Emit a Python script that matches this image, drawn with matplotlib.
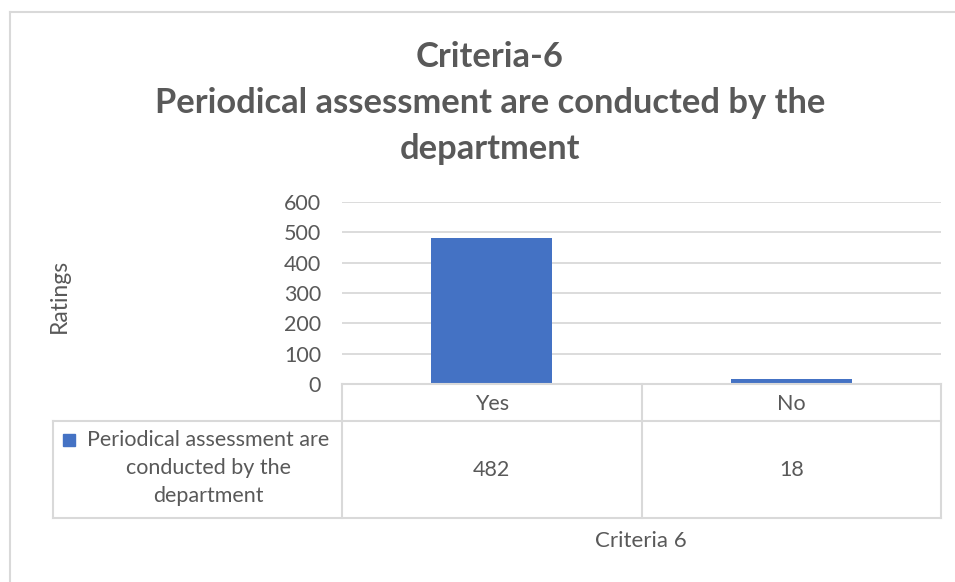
import matplotlib
matplotlib.use("Agg")
import matplotlib.pyplot as plt
from matplotlib.lines import Line2D
from matplotlib.patches import Rectangle

categories = ["Yes", "No"]
values = [482, 18]
series_label_lines = "Periodical assessment are\nconducted by the\ndepartment"
title_text = "Criteria-6\nPeriodical assessment are conducted by the\ndepartment"
y_ticks = [0, 100, 200, 300, 400, 500, 600]
y_label = "Ratings"
x_label = "Criteria 6"

FONT = "Lato"
TXT = "#595959"
GRID = "#D9D9D9"
BAR = "#4472C4"
FS = 15.5

W, H = 955, 582
fig = plt.figure(figsize=(W / 100, H / 100), dpi=100)
plt.rcParams['font.family'] = [FONT, 'DejaVu Sans']

def fx(px):
    return px / W

def fy(py):
    return 1 - py / H

L, R, T, B = 342, 941, 202, 384
ax = fig.add_axes([fx(L), fy(B), fx(R) - fx(L), fy(T) - fy(B)])
x = list(range(len(categories)))
ax.bar(x, values, width=0.405, color=BAR, zorder=3)
ax.set_xlim(-0.5, len(categories) - 0.5)
ax.set_ylim(0, 600)
ax.set_yticks(y_ticks)
ax.set_yticklabels([str(v) for v in y_ticks], fontsize=FS, color=TXT)
ax.tick_params(axis='y', length=0, pad=15)
ax.set_xticks([])
ax.yaxis.grid(True, color=GRID, linewidth=1.3, zorder=0)
for s in ax.spines.values():
    s.set_visible(False)

# outer chart border
fig.add_artist(Line2D([fx(10), fx(W + 5)], [fy(12), fy(12)], color=GRID, lw=1.5))
fig.add_artist(Line2D([fx(10), fx(10)], [fy(12), fy(H + 5)], color=GRID, lw=1.5))

# data table
tc = GRID
lw = 1.5
row1, row2, row3 = 384, 421, 518
left_cell = 53
def hline(y, x0, x1):
    fig.add_artist(Line2D([fx(x0), fx(x1)], [fy(y), fy(y)], color=tc, lw=lw))
def vline(xp, y0, y1):
    fig.add_artist(Line2D([fx(xp), fx(xp)], [fy(y0), fy(y1)], color=tc, lw=lw))

hline(row1, L, R)
hline(row2, left_cell, R)
hline(row3, left_cell, R)
vline(left_cell, row2, row3)
n = len(categories)
for i in range(n + 1):
    xpix = ax.transData.transform((i - 0.5, 0))[0]
    vline(xpix, row1, row3)
for i, (c, v) in enumerate(zip(categories, values)):
    xpix = ax.transData.transform((i, 0))[0]
    fig.text(fx(xpix), fy((row1 + row2) / 2 + 1), c, ha='center', va='center', fontsize=FS, color=TXT)
    fig.text(fx(xpix), fy((row2 + row3) / 2), str(v), ha='center', va='center', fontsize=FS, color=TXT)

# legend key + series name
fig.add_artist(Rectangle((fx(63), fy(446)), fx(12), 12 / H, color=BAR, transform=fig.transFigure))
fig.text(fx(208), fy(468), series_label_lines, ha='center', va='center', fontsize=FS,
         color=TXT, linespacing=1.48)

# labels
fig.text(fx(59), fy(296), y_label, rotation=90, ha='center', va='center', fontsize=16.5, color=TXT)
fig.text(fx(641), fy(541), x_label, ha='center', va='center', fontsize=16, color=TXT)

fig.text(fx(490), fy(103), title_text, ha='center', va='center', fontsize=24.8,
         fontweight='bold', color=TXT, linespacing=1.52)

fig.savefig("out.png", dpi=100)
